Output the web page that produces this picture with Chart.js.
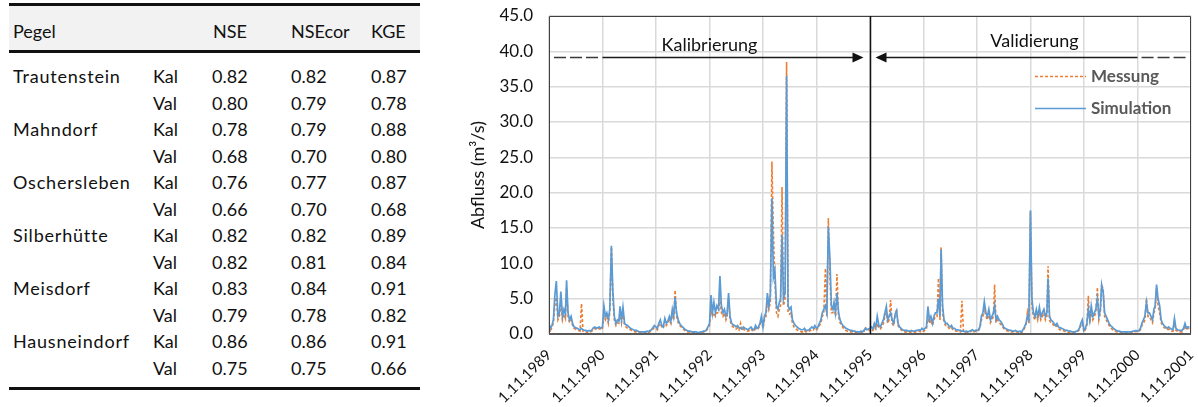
<!DOCTYPE html>
<html lang="de">
<head>
    <meta charset="UTF-8">
    <title>Abfluss Kalibrierung / Validierung</title>
    <style>
        body {
            margin: 0;
            width: 1198px;
            height: 407px;
            overflow: hidden;
            background: #fff;
            font-family: Lato, "Noto Sans", sans-serif;
            position: relative;
        }
        #table {
            position: absolute;
            left: 0;
            top: 0;
            width: 430px;
            height: 407px;
            color: #111;
            font-size: 18px;
        }
        #table .rule {
            position: absolute;
            left: 9px;
            width: 411px;
            height: 3px;
            background: #111;
        }
        #table .band {
            position: absolute;
            left: 9px;
            width: 411px;
            top: 6px;
            height: 44px;
            background: #f2f2f2;
        }
        #table .cell {
            position: absolute;
            line-height: 20px;
            height: 20px;
            white-space: nowrap;
        }
        #table .name { letter-spacing: 0.8px; }
        #chartBox {
            position: absolute;
            left: 440px;
            top: 0;
            width: 758px;
            height: 407px;
        }
    </style>
</head>
<body>
    <div id="table"></div>
    <div id="chartBox"><canvas id="abflussChart" width="758" height="407"></canvas></div>

    <script src="https://cdn.jsdelivr.net/npm/chart.js"></script>
    <script>
        // ---- table data ----
        const pegel = ['Trautenstein', 'Mahndorf', 'Oschersleben', 'Silberhütte', 'Meisdorf', 'Hausneindorf'];
        const nseKal    = ['0.82', '0.78', '0.76', '0.82', '0.83', '0.86'];
        const nseVal    = ['0.80', '0.68', '0.66', '0.82', '0.79', '0.75'];
        const nseCorKal = ['0.82', '0.79', '0.77', '0.82', '0.84', '0.86'];
        const nseCorVal = ['0.79', '0.70', '0.70', '0.81', '0.78', '0.75'];
        const kgeKal    = ['0.87', '0.88', '0.87', '0.89', '0.91', '0.91'];
        const kgeVal    = ['0.78', '0.80', '0.68', '0.84', '0.82', '0.66'];

        // ---- chart data ----
        // x axis ticks (start of each hydrological year)
        const tickLabels = ['1.11.1989', '1.11.1990', '1.11.1991', '1.11.1992', '1.11.1993', '1.11.1994',
            '1.11.1995', '1.11.1996', '1.11.1997', '1.11.1998', '1.11.1999', '1.11.2000', '1.11.2001'];
        const yTicks = [0, 5, 10, 15, 20, 25, 30, 35, 40, 45];

        // discharge in m³/s, one row per hydrological year (Nov..Oct), values on the 1st, 11th and 21st of each month
        const messung = [
            [1.2, 0.5, 0.9, 1.6, 4.0, 5.2, 2.0, 2.5, 4.5, 2.0, 2.8, 2.2, 6.5, 2.5, 1.6, 2.0, 1.2, 0.8, 0.7, 0.6, 0.5, 0.4, 4.3, 0.4, 0.3, 0.3, 0.2, 0.3, 0.3, 0.4, 0.7, 0.8, 0.6, 0.7, 0.8, 0.6],
            [0.8, 2.5, 2.0, 2.5, 1.5, 3.0, 12.3, 5.0, 2.0, 1.2, 1.6, 1.5, 3.2, 1.6, 3.0, 1.2, 1.0, 0.8, 0.7, 0.6, 0.5, 0.4, 0.3, 0.3, 0.2, 0.2, 0.2, 0.2, 0.2, 0.2, 0.3, 0.2, 0.3, 0.5, 0.7, 0.9],
            [0.8, 0.6, 1.2, 1.5, 1.0, 0.8, 1.8, 1.2, 1.5, 2.0, 1.5, 3.0, 2.0, 6.2, 2.5, 1.6, 1.2, 1.0, 0.8, 0.6, 0.4, 0.3, 0.3, 0.2, 0.2, 0.2, 0.2, 0.2, 0.1, 0.1, 0.2, 0.2, 0.3, 0.3, 0.5, 0.8],
            [1.2, 3.5, 2.5, 3.0, 2.5, 3.0, 3.0, 5.0, 3.0, 2.5, 3.0, 2.0, 2.5, 5.0, 2.0, 1.2, 1.0, 0.8, 0.7, 0.9, 0.6, 1.5, 0.5, 0.7, 0.5, 0.5, 0.4, 0.5, 0.7, 0.5, 0.4, 0.8, 0.6, 0.8, 1.2, 2.0],
            [0.8, 2.0, 2.5, 4.5, 3.5, 4.5, 24.4, 14.5, 7.5, 3.0, 2.5, 3.5, 4.0, 20.8, 4.0, 5.0, 38.5, 3.0, 2.8, 3.0, 1.5, 1.0, 0.8, 0.6, 0.5, 0.4, 0.3, 0.3, 0.5, 0.3, 0.3, 0.4, 0.5, 0.7, 0.6, 0.9],
            [0.6, 0.8, 1.2, 1.5, 2.5, 3.0, 9.3, 2.5, 16.4, 8.0, 3.0, 3.0, 4.0, 2.5, 8.5, 2.5, 1.6, 1.2, 0.9, 0.7, 0.5, 0.4, 0.4, 0.3, 0.3, 0.2, 0.2, 0.2, 0.2, 0.2, 0.3, 0.2, 0.3, 1.0, 0.5, 0.6],
            [0.5, 0.7, 0.5, 1.0, 0.7, 1.5, 0.8, 0.7, 1.0, 1.5, 2.5, 3.0, 1.5, 2.0, 4.8, 1.5, 1.2, 2.5, 3.5, 1.2, 0.8, 0.6, 0.4, 0.3, 0.3, 0.3, 0.2, 0.2, 0.3, 0.2, 0.2, 0.3, 0.3, 0.4, 0.3, 0.5],
            [0.4, 0.5, 0.8, 2.5, 1.5, 2.0, 1.2, 2.0, 2.5, 2.5, 7.9, 2.0, 12.3, 3.0, 1.6, 1.2, 1.2, 0.9, 0.7, 0.9, 0.6, 0.5, 0.4, 0.4, 0.3, 0.3, 4.7, 0.3, 0.2, 0.3, 0.2, 0.3, 0.4, 0.5, 0.3, 0.4],
            [0.3, 0.5, 0.8, 2.0, 2.5, 3.5, 2.5, 2.0, 3.0, 1.6, 2.0, 2.5, 7.0, 1.6, 2.0, 1.6, 1.4, 1.2, 0.8, 0.6, 0.5, 0.4, 0.3, 0.3, 0.3, 0.3, 0.3, 0.3, 0.2, 0.3, 0.2, 0.4, 0.8, 1.2, 3.0, 1.5],
            [17.3, 4.0, 2.5, 2.0, 3.0, 2.0, 3.0, 2.0, 2.5, 3.0, 2.0, 2.5, 9.6, 2.0, 1.5, 1.4, 1.2, 1.0, 1.2, 0.8, 0.6, 0.5, 0.5, 0.4, 0.3, 0.3, 0.2, 0.2, 0.2, 0.2, 0.2, 0.3, 0.4, 0.6, 1.2, 1.5],
            [0.3, 0.6, 1.2, 5.4, 1.5, 3.0, 2.0, 2.5, 3.0, 6.6, 2.0, 3.0, 6.8, 6.5, 2.5, 2.0, 1.6, 1.2, 0.9, 0.7, 0.5, 0.4, 0.3, 0.2, 0.2, 0.2, 0.2, 0.2, 0.2, 0.2, 0.2, 0.2, 0.2, 0.3, 0.3, 0.4],
            [0.3, 0.4, 0.6, 1.2, 1.5, 2.0, 5.0, 2.5, 2.5, 2.0, 1.6, 3.0, 3.5, 6.5, 4.0, 3.0, 1.6, 1.2, 0.9, 0.8, 0.6, 0.7, 0.5, 0.4, 0.4, 1.8, 0.5, 0.4, 0.3, 0.3, 0.3, 0.6, 1.2, 0.6, 0.8, 0.8]
        ];
        const simulation = [
            [1.5, 0.8, 1.2, 2.0, 5.5, 7.5, 2.5, 3.0, 6.0, 2.5, 3.5, 2.8, 7.6, 3.0, 2.0, 2.5, 1.5, 1.0, 0.9, 0.8, 0.7, 0.6, 0.8, 0.6, 0.5, 0.5, 0.4, 0.5, 0.4, 0.6, 0.9, 1.0, 0.8, 0.9, 1.0, 0.8],
            [1.0, 4.0, 2.5, 3.0, 2.0, 3.5, 12.5, 6.0, 2.5, 1.5, 2.0, 1.8, 3.9, 2.0, 3.8, 1.5, 1.3, 1.2, 1.0, 0.8, 0.7, 0.6, 0.5, 0.5, 0.4, 0.3, 0.3, 0.3, 0.3, 0.3, 0.4, 0.3, 0.5, 0.6, 0.9, 1.2],
            [1.0, 0.8, 1.5, 2.0, 1.2, 1.0, 2.2, 1.5, 1.8, 2.5, 1.8, 3.5, 2.5, 5.2, 3.0, 2.0, 1.5, 1.2, 1.0, 0.8, 0.6, 0.5, 0.4, 0.4, 0.3, 0.3, 0.3, 0.3, 0.2, 0.2, 0.3, 0.3, 0.4, 0.4, 0.6, 1.0],
            [1.5, 5.5, 3.0, 4.5, 3.0, 4.0, 3.5, 8.2, 4.0, 3.0, 3.5, 2.5, 3.0, 5.8, 2.5, 1.5, 1.3, 1.2, 1.0, 1.2, 0.9, 0.8, 0.7, 1.0, 0.8, 0.7, 0.6, 0.8, 1.0, 0.7, 0.6, 1.2, 0.8, 1.0, 1.5, 2.5],
            [1.0, 2.5, 3.0, 5.8, 4.0, 5.5, 19.2, 8.0, 9.0, 4.0, 3.5, 4.5, 5.0, 14.0, 5.0, 6.0, 36.5, 4.0, 3.5, 3.8, 2.0, 1.5, 1.2, 1.0, 0.8, 0.7, 0.6, 0.6, 0.8, 0.5, 0.5, 0.6, 0.8, 1.0, 0.8, 1.2],
            [0.8, 1.0, 1.5, 2.0, 3.0, 3.5, 4.0, 3.0, 15.2, 10.5, 4.0, 3.5, 4.5, 3.0, 5.8, 3.0, 2.0, 1.5, 1.2, 1.0, 0.8, 0.7, 0.6, 0.5, 0.5, 0.4, 0.4, 0.3, 0.3, 0.3, 0.4, 0.3, 0.5, 0.8, 0.6, 0.7],
            [0.8, 1.0, 0.7, 1.5, 1.0, 2.5, 1.2, 1.0, 1.5, 2.0, 3.0, 3.9, 2.0, 2.5, 3.0, 2.0, 1.5, 2.8, 3.3, 1.5, 1.0, 0.8, 0.6, 0.5, 0.5, 0.5, 0.4, 0.4, 0.5, 0.4, 0.4, 0.5, 0.5, 0.6, 0.5, 0.8],
            [0.6, 0.8, 1.0, 3.9, 2.0, 2.5, 1.5, 2.5, 3.0, 3.0, 5.0, 2.5, 12.0, 4.0, 2.0, 1.5, 1.5, 1.2, 1.0, 1.2, 0.8, 0.8, 0.6, 0.6, 0.5, 0.5, 0.4, 0.4, 0.3, 0.4, 0.3, 0.4, 0.5, 0.6, 0.4, 0.5],
            [0.5, 0.6, 1.0, 2.5, 3.0, 4.6, 3.0, 2.5, 3.5, 2.0, 2.5, 3.0, 4.0, 2.0, 2.5, 2.0, 1.8, 1.5, 1.0, 0.8, 0.7, 0.6, 0.5, 0.5, 0.4, 0.4, 0.5, 0.4, 0.3, 0.4, 0.3, 0.6, 1.0, 1.5, 2.5, 2.0],
            [17.5, 5.0, 3.0, 2.5, 3.5, 2.5, 3.8, 2.5, 3.0, 3.5, 2.5, 3.0, 7.9, 2.5, 2.0, 1.8, 1.5, 1.2, 1.5, 1.0, 0.9, 0.8, 0.7, 0.6, 0.5, 0.5, 0.4, 0.4, 0.3, 0.3, 0.3, 0.4, 0.5, 0.8, 1.5, 2.0],
            [0.5, 0.8, 1.5, 3.5, 2.0, 4.0, 2.5, 3.0, 3.5, 5.0, 2.5, 3.5, 7.0, 6.0, 3.0, 2.5, 2.0, 1.5, 1.2, 1.0, 0.8, 0.6, 0.5, 0.4, 0.4, 0.3, 0.3, 0.3, 0.3, 0.3, 0.3, 0.3, 0.3, 0.4, 0.4, 0.5],
            [0.4, 0.5, 0.8, 1.5, 2.0, 2.5, 4.5, 3.0, 3.0, 2.5, 2.0, 3.5, 4.0, 7.0, 5.0, 4.0, 2.0, 1.5, 1.2, 1.0, 0.8, 1.0, 0.8, 0.7, 0.6, 2.2, 0.8, 0.6, 0.5, 0.5, 0.5, 0.8, 1.5, 0.8, 1.0, 1.0]
        ];

        // ---- build the table ----
        var table = document.getElementById('table');
        function addCell(text, left, centerY, cls) {
            var d = document.createElement('div');
            d.className = 'cell' + (cls ? ' ' + cls : '');
            d.style.left = left + 'px';
            d.style.top = (centerY - 10) + 'px';
            d.textContent = text;
            table.appendChild(d);
        }
        function addRule(top) {
            var r = document.createElement('div');
            r.className = 'rule';
            r.style.top = top + 'px';
            table.appendChild(r);
        }
        var band = document.createElement('div');
        band.className = 'band';
        table.appendChild(band);
        addRule(3);
        addRule(50);
        addRule(387);

        addCell('Pegel', 13, 31);
        addCell('NSE', 213, 31);
        addCell('NSEcor', 291, 31);
        addCell('KGE', 371, 31);

        var rowY = 76, rowStep = 26.5;
        pegel.forEach(function(name, i) {
            var yKal = rowY + (2 * i) * rowStep;
            var yVal = yKal + rowStep;
            addCell(name, 13, yKal, 'name');
            addCell('Kal', 153, yKal);
            addCell(nseKal[i], 212, yKal);
            addCell(nseCorKal[i], 291, yKal);
            addCell(kgeKal[i], 371, yKal);
            addCell('Val', 153, yVal);
            addCell(nseVal[i], 212, yVal);
            addCell(nseCorVal[i], 291, yVal);
            addCell(kgeVal[i], 371, yVal);
        });

        // ---- chart ----
        function dayNum(y, m, d) {
            return Date.UTC(y, m - 1, d) / 864e5;
        }
        function labelToDay(label) {
            var p = label.split('.');
            return dayNum(+p[2], +p[1], +p[0]);
        }
        const tickDays = tickLabels.map(labelToDay);
        const startYear = +tickLabels[0].split('.')[2];

        // x position of the k-th ten-day value in hydrological year i
        function sampleDay(i, k) {
            var month = (10 + Math.floor(k / 3)) % 12;     // 0-based month, starting with November
            var year = startYear + i + (month < 10 ? 1 : 0);
            return dayNum(year, month + 1, 1 + 10 * (k % 3));
        }
        function toPoints(rows) {
            var pts = [];
            rows.forEach(function(row, i) {
                row.forEach(function(v, k) {
                    pts.push({ x: sampleDay(i, k), y: v });
                });
            });
            return pts;
        }

        const font = 'Lato, "Noto Sans", sans-serif';

        const overlay = {
            id: 'overlay',
            afterDraw(chart) {
                const ctx = chart.ctx;
                const a = chart.chartArea;
                const x = chart.scales.x, y = chart.scales.y;
                const split = Math.round(x.getPixelForValue(labelToDay('1.11.1995'))) + 0.5;
                const calStart = x.getPixelForValue(tickDays[1]);
                const valEnd = x.getPixelForValue(tickDays[11]);
                const ay = Math.round(y.getPixelForValue(39.2)) + 0.5;

                function line(x1, y1, x2, y2) {
                    ctx.beginPath();
                    ctx.moveTo(x1, y1);
                    ctx.lineTo(x2, y2);
                    ctx.stroke();
                }
                function head(tip, dir) {
                    ctx.beginPath();
                    ctx.moveTo(tip, ay);
                    ctx.lineTo(tip - dir * 11, ay - 5);
                    ctx.lineTo(tip - dir * 11, ay + 5);
                    ctx.closePath();
                    ctx.fill();
                }

                ctx.save();
                // frame
                ctx.strokeStyle = '#404040';
                ctx.lineWidth = 1;
                ctx.beginPath();
                ctx.moveTo(Math.round(a.left) + 0.5, Math.round(a.bottom));
                ctx.lineTo(Math.round(a.left) + 0.5, Math.round(a.top) + 0.5);
                ctx.lineTo(Math.round(a.right) - 0.5, Math.round(a.top) + 0.5);
                ctx.lineTo(Math.round(a.right) - 0.5, Math.round(a.bottom));
                ctx.stroke();
                ctx.strokeStyle = '#595959';
                ctx.lineWidth = 2;
                line(a.left, Math.round(a.bottom), a.right, Math.round(a.bottom));

                // split between calibration and validation
                ctx.strokeStyle = '#111';
                ctx.lineWidth = 1.5;
                line(split, a.top, split, a.bottom);

                // period arrows
                ctx.strokeStyle = '#3a3a3a';
                ctx.fillStyle = '#111';
                ctx.lineWidth = 1.5;
                ctx.setLineDash([12, 4]);
                line(a.left + 5, ay, calStart - 4, ay);
                line(valEnd + 4, ay, a.right - 3, ay);
                ctx.setLineDash([]);
                ctx.strokeStyle = '#1a1a1a';
                line(calStart, ay, split - 12, ay);
                line(split + 12, ay, valEnd, ay);
                head(split - 7, 1);
                head(split + 5, -1);

                // period titles
                ctx.fillStyle = '#111';
                ctx.font = '18px ' + font;
                ctx.textAlign = 'center';
                ctx.textBaseline = 'alphabetic';
                ctx.fillText('Kalibrierung', x.getPixelForValue(tickDays[3]), y.getPixelForValue(40.1));
                ctx.fillText('Validierung', x.getPixelForValue(tickDays[9]) + 4, y.getPixelForValue(40.6));

                // legend
                const legendRows = [36.5, 32.0];
                chart.data.datasets.forEach(function(ds, i) {
                    const ly = Math.round(y.getPixelForValue(legendRows[i])) + 0.5;
                    ctx.strokeStyle = ds.borderColor;
                    ctx.lineWidth = 1.5;
                    ctx.setLineDash(ds.borderDash || []);
                    line(a.right - 156, ly, a.right - 105, ly);
                    ctx.setLineDash([]);
                    ctx.fillStyle = '#595959';
                    ctx.font = 'bold 17px ' + font;
                    ctx.textAlign = 'left';
                    ctx.textBaseline = 'middle';
                    ctx.fillText(ds.label, a.right - 100, ly);
                });
                ctx.restore();
            }
        };

        const ctx = document.getElementById('abflussChart').getContext('2d');
        const abflussChart = new Chart(ctx, {
            type: 'line',
            data: {
                datasets: [
                    {
                        label: 'Messung',
                        data: toPoints(messung),
                        borderColor: '#ed7d31',
                        borderWidth: 1.6,
                        borderDash: [3, 2],
                        pointRadius: 0,
                        tension: 0,
                        fill: false,
                        order: 2
                    },
                    {
                        label: 'Simulation',
                        data: toPoints(simulation),
                        borderColor: '#5b9bd5',
                        borderWidth: 1.7,
                        pointRadius: 0,
                        tension: 0,
                        fill: false,
                        order: 1
                    }
                ]
            },
            options: {
                responsive: false,
                animation: false,
                events: [],
                layout: { padding: { top: 16, right: 7, left: 0, bottom: 0 } },
                plugins: {
                    legend: { display: false },
                    tooltip: { enabled: false }
                },
                scales: {
                    x: {
                        type: 'linear',
                        min: tickDays[0],
                        max: tickDays[tickDays.length - 1],
                        afterBuildTicks: function(scale) {
                            scale.ticks = tickDays.map(function(d) { return { value: d }; });
                        },
                        afterFit: function(scale) {
                            scale.height = 73;
                            scale.paddingLeft = 0;
                            scale.paddingRight = 0;
                        },
                        grid: { color: '#d9d9d9', lineWidth: 1.5, drawTicks: false },
                        border: { display: false },
                        ticks: {
                            autoSkip: false,
                            minRotation: 45,
                            maxRotation: 45,
                            padding: 12,
                            color: '#111',
                            font: { family: font, size: 15 },
                            callback: function(value, index) { return tickLabels[index]; }
                        }
                    },
                    y: {
                        min: yTicks[0],
                        max: yTicks[yTicks.length - 1],
                        afterBuildTicks: function(scale) {
                            scale.ticks = yTicks.map(function(v) { return { value: v }; });
                        },
                        afterFit: function(scale) {
                            scale.width = 109;
                            scale.paddingTop = 0;
                            scale.paddingBottom = 0;
                        },
                        grid: { color: '#d9d9d9', lineWidth: 1.5, drawTicks: false },
                        border: { display: false },
                        ticks: {
                            padding: 16,
                            color: '#111',
                            font: { family: font, size: 17 },
                            callback: function(value) { return value.toFixed(1); }
                        },
                        title: {
                            display: true,
                            text: 'Abfluss (m³/s)',
                            color: '#111',
                            padding: { top: 27, bottom: 0 },
                            font: { family: font, size: 18 }
                        }
                    }
                }
            },
            plugins: [overlay]
        });
    </script>
</body>
</html>
